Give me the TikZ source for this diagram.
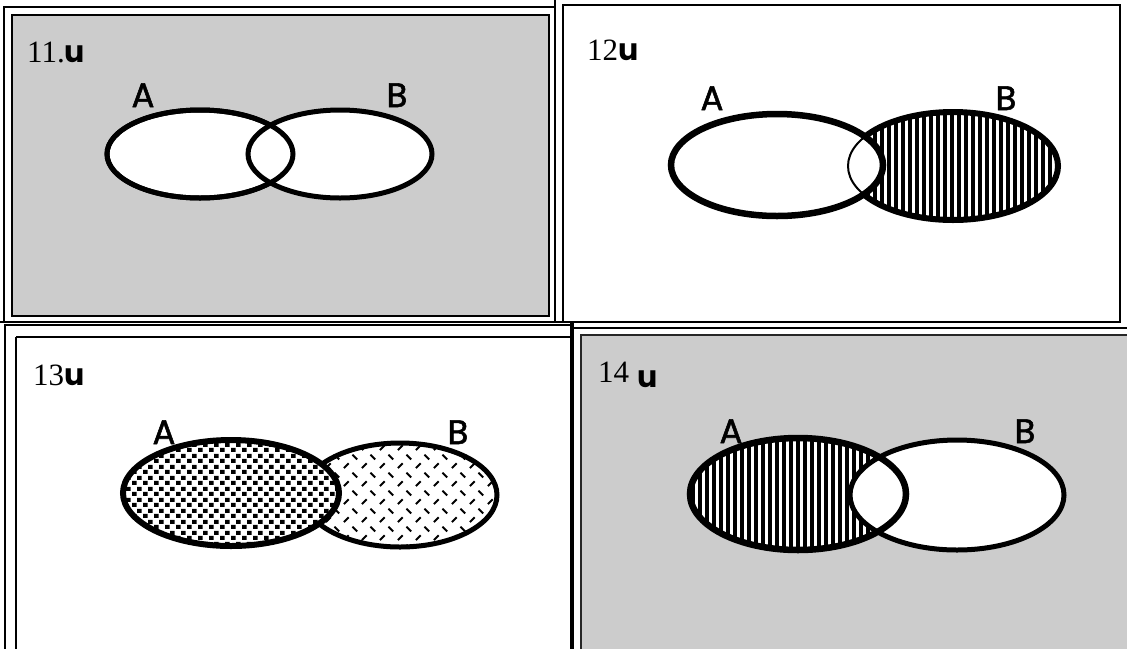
\documentclass[tikz,border=0pt]{standalone}
\usepackage{fontspec}
\setmainfont{Liberation Serif}
\newfontfamily\gsans[FakeBold=1.5]{Poppins}
\newfontfamily\gsansb{Poppins}
\usetikzlibrary{patterns,patterns.meta}
\definecolor{bg}{HTML}{CCCCCC}
\tikzdeclarepattern{
  name=sqdots,
  type=uncolored,
  bounding box={(0pt,0pt) and (11pt,11pt)},
  tile size={(11pt,11pt)},
  code={\pgfpathrectangle{\pgfpoint{0pt}{0pt}}{\pgfpoint{5pt}{4.4pt}}
        \pgfpathrectangle{\pgfpoint{5.5pt}{5.5pt}}{\pgfpoint{5pt}{4.4pt}}
        \pgfusepath{fill}}
}
\tikzdeclarepattern{
  name=dashlat,
  type=uncolored,
  bounding box={(0pt,0pt) and (18pt,18pt)},
  tile size={(18pt,18pt)},
  code={\pgfsetlinewidth{2pt}
        \pgfpathmoveto{\pgfpoint{2pt}{2pt}}\pgfpathlineto{\pgfpoint{7pt}{7pt}}
        \pgfpathmoveto{\pgfpoint{11pt}{16pt}}\pgfpathlineto{\pgfpoint{16pt}{11pt}}
        \pgfusepath{stroke}}
}
\tikzset{
  frame/.style={line width=2.5pt},
  vline/.style={pattern={Lines[angle=90,distance=7pt,line width=3.5pt]}},
  lab/.style={font=\gsans\fontsize{34}{34}\selectfont, anchor=base, inner sep=0pt},
  num/.style={anchor=base west, inner sep=0pt},
}
\newcommand{\pnum}[1]{{\fontsize{31}{31}\selectfont #1}}
\newcommand{\pu}{{\gsansb\bfseries\fontsize{30}{30}\selectfont u}}
\begin{document}
\begin{tikzpicture}[x=1pt,y=-1pt]
\useasboundingbox (0,0) rectangle (1127,649);
\fill[white] (0,0) rectangle (1127,649);
% ---------- frames ----------
% panel 11
\draw[frame] (4,7) rectangle (555,322);
\draw[frame] (555,0) -- (555,7);
\draw[frame, fill=bg] (12,15) rectangle (549,316);
% panel 12
\draw[frame] (563,5) rectangle (1120,322);
\draw[frame] (0,322) -- (1120,322);
% panel 13
\draw[frame] (4,325) -- (572,325);
\draw[frame] (5,325) -- (5,649);
\draw[frame] (16,337) -- (16,649);
\draw[frame] (16,337) -- (572,337);
\draw[line width=4pt] (572,323) -- (572,649);
% panel 14
\draw[frame] (574,328) -- (1127,328);
\fill[bg] (581,335) rectangle (1127,649);
\draw[line width=2pt, black!85] (581,649) -- (581,335) -- (1127,335);
% ---------- panel 11 ----------
\node[num] (n11) at (27,62) {\pnum{11.}\pu};
\node[lab] (a11) at (143,107) {A};
\node[lab] (b11) at (397,107) {B};
\filldraw[fill=white, line width=5pt] (200,154) ellipse [x radius=93, y radius=44];
\filldraw[fill=white, line width=5pt] (340,154) ellipse [x radius=92, y radius=44];
\draw[line width=5pt] (200,154) ellipse [x radius=93, y radius=44];
% ---------- panel 12 ----------
\node[num] (n12) at (587,60) {\pnum{12}\pu};
\node[lab] (a12) at (712,110) {A};
\node[lab] (b12) at (1006,110) {B};
\draw[vline, line width=6pt] (953,166) ellipse [x radius=105, y radius=54];
\fill[white] (777,165) ellipse [x radius=106, y radius=51];
\begin{scope}
  \clip (777,165) ellipse [x radius=106, y radius=51];
  \draw[line width=2pt] (953,166) ellipse [x radius=105, y radius=54];
\end{scope}
\draw[line width=6.5pt] (777,165) ellipse [x radius=106, y radius=51];
% ---------- panel 13 ----------
\node[num] (n13) at (33,385) {\pnum{13}\pu};
\node[lab] (a13) at (164,444) {A};
\node[lab] (b13) at (458,444) {B};
\fill[white] (400,495) ellipse [x radius=97, y radius=52];
\draw[pattern=dashlat, line width=5pt] (400,495) ellipse [x radius=97, y radius=52];
\fill[white] (231,493) ellipse [x radius=108, y radius=53];
\draw[pattern=sqdots, line width=6pt] (231,493) ellipse [x radius=108, y radius=53];
% ---------- panel 14 ----------
\node[num] (n14) at (598,382) {\pnum{14}};
\node[num] (u14) at (637,387) {\pu};
\node[lab] (a14) at (731,443) {A};
\node[lab] (b14) at (1025,443) {B};
\fill[white] (798,494) ellipse [x radius=108, y radius=56];
\fill[vline] (798,494) ellipse [x radius=108, y radius=56];
\fill[white] (957,495) ellipse [x radius=107, y radius=55];
\draw[line width=6.5pt] (798,494) ellipse [x radius=108, y radius=56];
\draw[line width=5pt] (957,495) ellipse [x radius=107, y radius=55];
\end{tikzpicture}
\end{document}
